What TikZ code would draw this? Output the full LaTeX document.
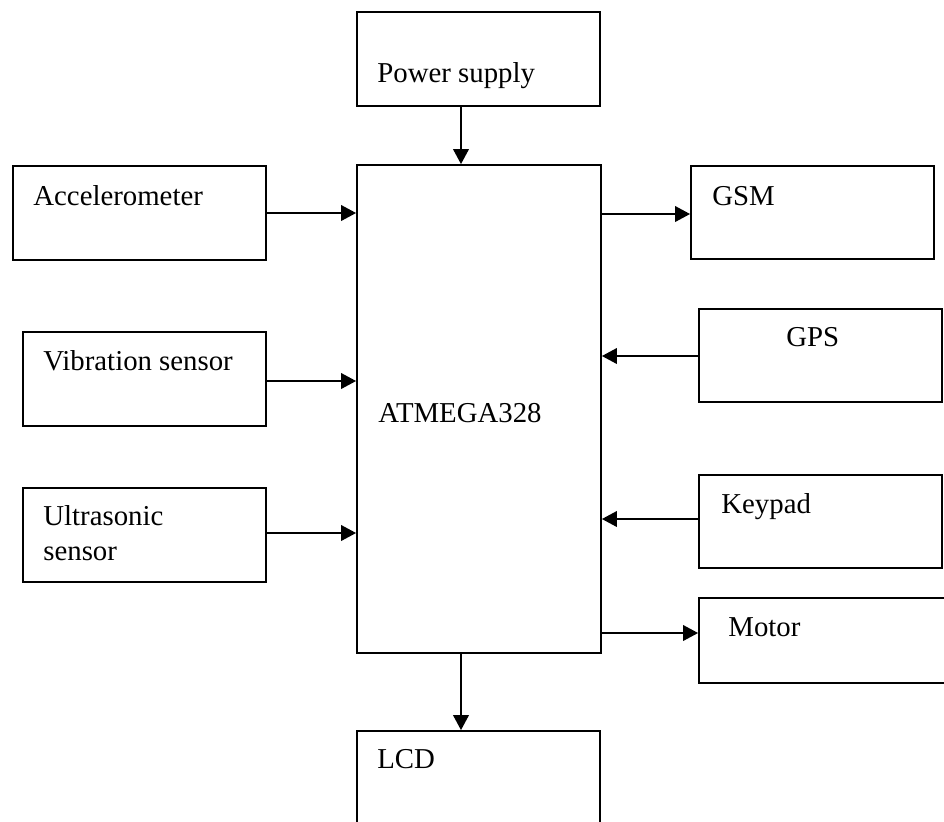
\documentclass[tikz,border=0pt]{standalone}
\usepackage{fontspec}
\setmainfont{Liberation Serif}
\usetikzlibrary{arrows.meta}
\begin{document}
\begin{tikzpicture}[x=0.5pt,y=-0.5pt,
  blk/.style={draw, line width=0.9pt, inner sep=0pt},
  lbl/.style={anchor=base west, inner sep=0pt, font=\fontsize{14.4}{17.5}\selectfont},
  arr/.style={line width=0.9pt, -{Triangle[length=7.5pt,width=7.8pt]}}]
\useasboundingbox (0,0) rectangle (944,821);
\node[blk, minimum width=121.5pt, minimum height=47pt] (pow) at (478.5,59){};
\node[blk, minimum width=122pt, minimum height=244pt] (mcu) at (479,409){};
\node[blk, minimum width=126.5pt, minimum height=47pt] (acc) at (139.5,213){};
\node[blk, minimum width=121.5pt, minimum height=47pt] (vib) at (144.5,379){};
\node[blk, minimum width=121.5pt, minimum height=47pt] (ult) at (144.5,535){};
\node[blk, minimum width=121.5pt, minimum height=46.5pt] (gsm) at (812.5,212.5){};
\node[blk, minimum width=121.5pt, minimum height=46.5pt] (gps) at (820.5,355.5){};
\node[blk, minimum width=121.5pt, minimum height=46.5pt] (key) at (820.5,521.5){};
\node[blk, minimum width=132.5pt, minimum height=42.5pt] (mot) at (831.5,640.5){};
\node[blk, minimum width=121.5pt, minimum height=47pt] (lcd) at (478.5,778){};
\node[lbl] (pow-t) at (377,82){Power supply};
\node[lbl] (mcu-t) at (378,422){ATMEGA328};
\node[lbl] (acc-t) at (33,205){Accelerometer};
\node[lbl] (vib-t) at (43,370){Vibration sensor};
\node[lbl] (ult-t1) at (43,525){Ultrasonic};
\node[lbl] (ult-t2) at (43,560){sensor};
\node[lbl] (gsm-t) at (712,205){GSM};
\node[lbl] (gps-t) at (786,346){GPS};
\node[lbl] (key-t) at (721,513){Keypad};
\node[lbl] (mot-t) at (728,636){Motor};
\node[lbl] (lcd-t) at (377,768){LCD};
\draw[arr] ([xshift=-8.75pt]pow.south) -- ([xshift=-8.75pt]pow.south |- mcu.north);
\draw[arr] (acc.east) -- (acc.east -| mcu.west);
\draw[arr] ([yshift=-1pt]vib.east) -- ([yshift=-1pt]vib.east -| mcu.west);
\draw[arr] ([yshift=1pt]ult.east) -- ([yshift=1pt]ult.east -| mcu.west);
\draw[arr] ([yshift=-0.75pt]mcu.east |- gsm.west) -- ([yshift=-0.75pt]gsm.west);
\draw[arr] ([yshift=-0.25pt]gps.west) -- ([yshift=-0.25pt]gps.west -| mcu.east);
\draw[arr] ([yshift=1.25pt]key.west) -- ([yshift=1.25pt]key.west -| mcu.east);
\draw[arr] ([yshift=3.75pt]mcu.east |- mot.west) -- ([yshift=3.75pt]mot.west);
\draw[arr] ([xshift=-9pt]mcu.south) -- ([xshift=-9pt]mcu.south |- lcd.north);
\end{tikzpicture}
\end{document}
